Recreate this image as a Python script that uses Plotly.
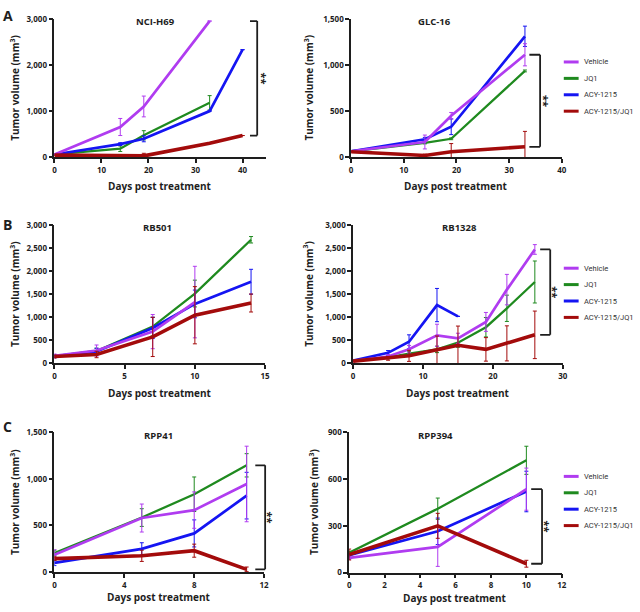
import plotly.graph_objects as go

# ---------------- data ----------------
SERIES = ["Vehicle", "JQ1", "ACY-1215", "ACY-1215/JQ1"]
DRAW_ORDER = ["JQ1", "ACY-1215", "Vehicle", "ACY-1215/JQ1"]

# A: NCI-H69
h69_days = [0, 14, 19, 33, 40]
h69_vehicle = [60, 655, 1100, 2950]
h69_vehicle_err = [10, 185, 225, 0]
h69_jq1 = [60, 185, 475, 1180]
h69_jq1_err = [10, 60, 100, 155]
h69_acy = [60, 285, 400, 1000, 2330]
h69_acy_err = [10, 30, 65, 0, 0]
h69_combo = [45, 25, 30, 305, 470]
h69_combo_err = [0, 15, 55, 0, 0]

# A: GLC-16
glc_days = [0, 14, 19, 33]
glc_vehicle = [65, 165, 450, 1110]
glc_vehicle_err = [5, 75, 35, 120]
glc_jq1 = [65, 155, 200, 935]
glc_jq1_err = [5, 10, 10, 10]
glc_acy = [65, 195, 330, 1310]
glc_acy_err = [5, 20, 85, 110]
glc_combo = [60, 18, 60, 113]
glc_combo_err = [5, 15, 88, 167]

# B: RB501
rb501_days = [0, 3, 7, 10, 14]
rb501_vehicle = [165, 280, 690, 1330]
rb501_vehicle_err = [40, 120, 370, 775]
rb501_jq1 = [160, 270, 800, 1515, 2680]
rb501_jq1_err = [30, 60, 200, 290, 70]
rb501_acy = [150, 260, 770, 1290, 1770]
rb501_acy_err = [30, 70, 230, 300, 270]
rb501_combo = [150, 195, 575, 1045, 1310]
rb501_combo_err = [30, 70, 425, 620, 195]

# B: RB1328
rb1328_days = [0, 5, 8, 12, 15, 19, 22, 26]
rb1328_vehicle = [50, 150, 310, 610, 545, 900, 1600, 2470]
rb1328_vehicle_err = [10, 40, 80, 240, 110, 205, 330, 105]
rb1328_jq1 = [50, 130, 215, 305, 450, 785, 1195, 1765]
rb1328_jq1_err = [10, 30, 50, 70, 100, 210, 285, 455]
rb1328_acy = [60, 230, 470, 1265, 1020]
rb1328_acy_err = [10, 50, 150, 360, 0]
rb1328_combo = [50, 110, 165, 295, 395, 305, 435, 620]
rb1328_combo_err = [10, 40, 120, 300, 415, 255, 380, 515]

# C: RPP41
rpp41_days = [0, 5, 8, 11]
rpp41_vehicle = [185, 580, 665, 945]
rpp41_vehicle_err = [55, 150, 195, 405]
rpp41_jq1 = [205, 585, 835, 1145]
rpp41_jq1_err = [30, 95, 185, 125]
rpp41_acy = [100, 250, 415, 820]
rpp41_acy_err = [30, 65, 145, 250]
rpp41_combo = [145, 175, 230, 30]
rpp41_combo_err = [20, 60, 70, 25]

# C: RPP394
rpp394_days = [0, 5, 10]
rpp394_vehicle = [95, 165, 535]
rpp394_vehicle_err = [10, 125, 135]
rpp394_jq1 = [127, 410, 720]
rpp394_jq1_err = [10, 68, 90]
rpp394_acy = [112, 265, 520]
rpp394_acy_err = [10, 85, 130]
rpp394_combo = [116, 300, 57]
rpp394_combo_err = [35, 80, 22]

# ---------------- styles ----------------
COLORS = {"Vehicle": "#b03cf0", "JQ1": "#1f8a1f",
          "ACY-1215": "#1515f2", "ACY-1215/JQ1": "#a30b0b"}
WIDTHS = {"Vehicle": 2.7, "JQ1": 2.3, "ACY-1215": 2.7, "ACY-1215/JQ1": 3.6}
FONT = "Open Sans"
INK = "#1e1e1e"
W, H = 640, 612


def px_x(p):
    return p / W


def px_y(p):
    return 1 - p / H


panels = [
    dict(title="NCI-H69", days=h69_days,
         vals={"Vehicle": h69_vehicle, "JQ1": h69_jq1, "ACY-1215": h69_acy, "ACY-1215/JQ1": h69_combo},
         errs={"Vehicle": h69_vehicle_err, "JQ1": h69_jq1_err, "ACY-1215": h69_acy_err, "ACY-1215/JQ1": h69_combo_err},
         xdom=(53, 267), ydom=(13, 154), xr=45, xt=[0, 10, 20, 30, 40], yr=3000, yt=[0, 1000, 2000, 3000],
         title_x=0.477, ytitle_px=13, xtitle_shift=-29,
         bracket=("Vehicle", 0.924, 0.958, 0.984)),
    dict(title="GLC-16", days=glc_days,
         vals={"Vehicle": glc_vehicle, "JQ1": glc_jq1, "ACY-1215": glc_acy, "ACY-1215/JQ1": glc_combo},
         errs={"Vehicle": glc_vehicle_err, "JQ1": glc_jq1_err, "ACY-1215": glc_acy_err, "ACY-1215/JQ1": glc_combo_err},
         xdom=(353, 566), ydom=(13, 154), xr=40, xt=[0, 10, 20, 30, 40], yr=1500, yt=[0, 500, 1000, 1500],
         title_x=0.394, ytitle_px=310, xtitle_shift=-29,
         bracket=("Vehicle", 0.846, 0.897, 0.915), legend_y=57),
    dict(title="RB501", days=rb501_days,
         vals={"Vehicle": rb501_vehicle, "JQ1": rb501_jq1, "ACY-1215": rb501_acy, "ACY-1215/JQ1": rb501_combo},
         errs={"Vehicle": rb501_vehicle_err, "JQ1": rb501_jq1_err, "ACY-1215": rb501_acy_err, "ACY-1215/JQ1": rb501_combo_err},
         xdom=(53, 266), ydom=(223, 364), xr=15, xt=[0, 5, 10, 15], yr=3000, yt=[0, 500, 1000, 1500, 2000, 2500, 3000],
         title_x=0.488, ytitle_px=13, xtitle_shift=-30, bracket=None),
    dict(title="RB1328", days=rb1328_days,
         vals={"Vehicle": rb1328_vehicle, "JQ1": rb1328_jq1, "ACY-1215": rb1328_acy, "ACY-1215/JQ1": rb1328_combo},
         errs={"Vehicle": rb1328_vehicle_err, "JQ1": rb1328_jq1_err, "ACY-1215": rb1328_acy_err, "ACY-1215/JQ1": rb1328_combo_err},
         xdom=(355, 567), ydom=(223, 364), xr=30, xt=[0, 10, 20, 30], yr=3000, yt=[0, 500, 1000, 1500, 2000, 2500, 3000],
         title_x=0.505, ytitle_px=310, xtitle_shift=-30,
         bracket=("Vehicle", 0.892, 0.940, 0.957), legend_y=267),
    dict(title="RPP41", days=rpp41_days,
         vals={"Vehicle": rpp41_vehicle, "JQ1": rpp41_jq1, "ACY-1215": rpp41_acy, "ACY-1215/JQ1": rpp41_combo},
         errs={"Vehicle": rpp41_vehicle_err, "JQ1": rpp41_jq1_err, "ACY-1215": rpp41_acy_err, "ACY-1215/JQ1": rpp41_combo_err},
         xdom=(53, 265), ydom=(434, 576.5), xr=12, xt=[0, 4, 8, 12], yr=1500, yt=[0, 500, 1000, 1500],
         title_x=0.495, ytitle_px=13, xtitle_shift=-25,
         bracket=("JQ1", 0.958, 1.005, 1.022)),
    dict(title="RPP394", days=rpp394_days,
         vals={"Vehicle": rpp394_vehicle, "JQ1": rpp394_jq1, "ACY-1215": rpp394_acy, "ACY-1215/JQ1": rpp394_combo},
         errs={"Vehicle": rpp394_vehicle_err, "JQ1": rpp394_jq1_err, "ACY-1215": rpp394_acy_err, "ACY-1215/JQ1": rpp394_combo_err},
         xdom=(351, 566), ydom=(434, 577), xr=12, xt=[0, 2, 4, 6, 8, 10, 12], yr=900, yt=[0, 300, 600, 900],
         title_x=0.405, ytitle_px=316, xtitle_shift=-25,
         bracket=("Vehicle", 0.856, 0.907, 0.925), legend_y=479),
]

fig = go.Figure()
shapes = []
annotations = []
layout = {}

axis_common = dict(showline=True, linecolor=INK, linewidth=1.6, ticks="outside", ticklen=4,
                   tickwidth=1.6, tickcolor=INK, showgrid=False, zeroline=False,
                   tickfont=dict(family=FONT, size=8, color=INK, weight="bold"))

for i, p in enumerate(panels, start=1):
    xa = "x" if i == 1 else f"x{i}"
    ya = "y" if i == 1 else f"y{i}"
    xkey = "xaxis" if i == 1 else f"xaxis{i}"
    ykey = "yaxis" if i == 1 else f"yaxis{i}"
    layout[xkey] = dict(axis_common, domain=[px_x(p["xdom"][0]), px_x(p["xdom"][1])],
                        range=[0, p["xr"]], tickvals=p["xt"], anchor=ya)
    layout[ykey] = dict(axis_common, domain=[px_y(p["ydom"][1]), px_y(p["ydom"][0])],
                        range=[0, p["yr"]], tickvals=p["yt"], tickformat=",", anchor=xa)

    for s in DRAW_ORDER:
        v = p["vals"][s]
        fig.add_trace(go.Scatter(
            x=p["days"][:len(v)], y=v, mode="lines", name=s, showlegend=False,
            xaxis=xa, yaxis=ya,
            line=dict(color=COLORS[s], width=WIDTHS[s]),
            error_y=dict(type="data", array=p["errs"][s], visible=True,
                         thickness=1, width=2, color=COLORS[s])))

    # panel title
    annotations.append(dict(text=p["title"], xref=f"{xa} domain", yref=f"{ya} domain",
                            x=p["title_x"], y=1, yshift=-3, xanchor="center", yanchor="middle",
                            showarrow=False, font=dict(family=FONT, size=9.5, color=INK, weight="bold")))
    # x axis title
    annotations.append(dict(text="Days post treatment", xref=f"{xa} domain", yref=f"{ya} domain",
                            x=0.5, y=0, yshift=p["xtitle_shift"], xanchor="center", yanchor="middle",
                            showarrow=False, font=dict(family=FONT, size=10, color=INK, weight="bold")))
    # y axis title
    annotations.append(dict(text="Tumor volume (mm<sup>3</sup>)", xref="paper", yref=f"{ya} domain",
                            x=px_x(p["ytitle_px"]), y=0.5, xanchor="center", yanchor="middle",
                            textangle=-90, showarrow=False,
                            font=dict(family=FONT, size=10, color=INK, weight="bold")))

    # significance bracket
    if p["bracket"]:
        top_series, x_tick, x_line, x_txt = p["bracket"]
        y_top = p["vals"][top_series][-1]
        y_bot = p["vals"]["ACY-1215/JQ1"][-1]
        line = dict(color=INK, width=1.8)
        shapes.append(dict(type="line", xref=f"{xa} domain", yref=ya, x0=x_line, x1=x_line,
                           y0=y_bot, y1=y_top, line=line))
        shapes.append(dict(type="line", xref=f"{xa} domain", yref=ya, x0=x_tick, x1=x_line,
                           y0=y_top, y1=y_top, line=line))
        shapes.append(dict(type="line", xref=f"{xa} domain", yref=ya, x0=x_tick, x1=x_line,
                           y0=y_bot, y1=y_bot, line=line))
        annotations.append(dict(text="**", xref=f"{xa} domain", yref=ya, x=x_txt,
                                y=(y_top + y_bot) / 2, textangle=90, showarrow=False,
                                xanchor="center", yanchor="middle",
                                font=dict(family=FONT, size=11, color=INK, weight="bold")))

    # legend (manual, right column)
    if "legend_y" in p:
        for k, s in enumerate(SERIES):
            yy = px_y(p["legend_y"] + k * 16.7)
            shapes.append(dict(type="line", xref="paper", yref="paper", x0=px_x(568), x1=px_x(583),
                               y0=yy, y1=yy, line=dict(color=COLORS[s], width=3)))
            annotations.append(dict(text=s, xref="paper", yref="paper", x=px_x(586), y=yy,
                                    xanchor="left", yanchor="middle", showarrow=False,
                                    font=dict(family="Roboto", size=7.5, color="#333333")))

# panel letters
for letter, ypx in [("A", 10), ("B", 222), ("C", 428)]:
    annotations.append(dict(text=letter, xref="paper", yref="paper", x=px_x(6), y=px_y(ypx),
                            xanchor="center", yanchor="middle", showarrow=False,
                            font=dict(family=FONT, size=14, color=INK, weight="bold")))

fig.update_layout(width=W, height=H, autosize=False,
                  margin=dict(l=0, r=0, t=0, b=0),
                  paper_bgcolor="white", plot_bgcolor="white",
                  showlegend=False, shapes=shapes, annotations=annotations, **layout)

fig.write_html("out.html", config={"displayModeBar": False},
               post_script="document.body.style.margin='0';document.body.style.overflow='hidden';")
